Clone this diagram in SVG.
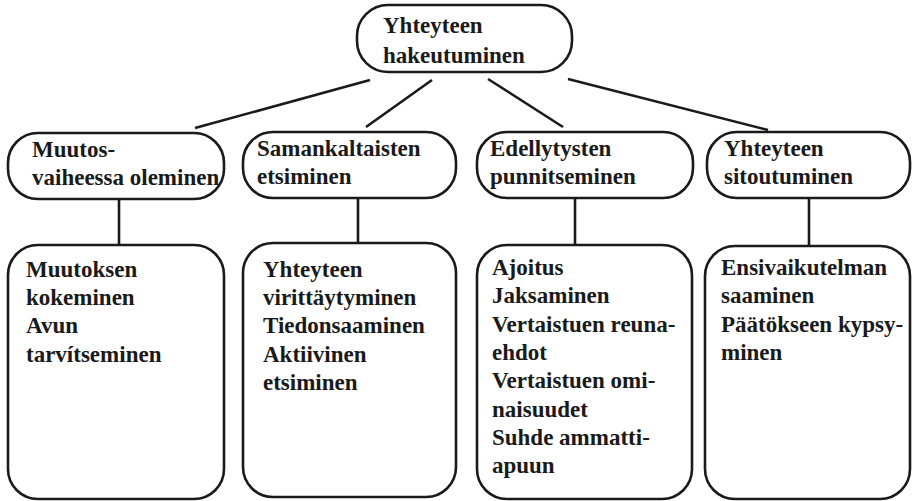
<svg xmlns="http://www.w3.org/2000/svg" width="912" height="501" viewBox="0 0 912 501">
  <style>
    .box { fill: #ffffff; stroke: #1a1a1a; stroke-width: 2.6; }
    .link { stroke: #1a1a1a; stroke-width: 2.6; fill: none; }
    text { font-family: "Liberation Serif", "Times New Roman", serif; font-weight: bold; font-size: 23px; fill: #1a1a1a; }
  </style>
  <rect width="912" height="501" fill="#ffffff"/>

  <!-- connectors -->
  <g id="connectors">
    <line class="link" x1="370" y1="80" x2="195" y2="128"/>
    <line class="link" x1="432" y1="80" x2="366" y2="127"/>
    <line class="link" x1="488" y1="79" x2="563" y2="127"/>
    <line class="link" x1="568" y1="79" x2="768" y2="130"/>
    <line class="link" x1="119" y1="199" x2="119" y2="245"/>
    <line class="link" x1="358" y1="198" x2="358" y2="243"/>
    <line class="link" x1="575" y1="198" x2="575" y2="245"/>
    <line class="link" x1="809" y1="198" x2="809" y2="246"/>
  </g>

  <!-- root -->
  <g id="root">
    <rect class="box" x="357" y="5" width="215" height="67" rx="31" ry="31"/>
    <text x="383" y="33">Yhteyteen</text>
    <text x="383" y="63">hakeutuminen</text>
  </g>

  <!-- second level -->
  <g id="muutosvaihe">
    <rect class="box" x="8" y="133" width="216" height="66" rx="30" ry="30"/>
    <text x="32" y="157">Muutos-</text>
    <text x="32" y="185">vaiheessa oleminen</text>
  </g>
  <g id="samankaltaisten">
    <rect class="box" x="243" y="132" width="213" height="66" rx="30" ry="30"/>
    <text x="257" y="156">Samankaltaisten</text>
    <text x="257" y="184">etsiminen</text>
  </g>
  <g id="edellytysten">
    <rect class="box" x="477" y="132" width="216" height="66" rx="30" ry="30"/>
    <text x="490" y="156">Edellytysten</text>
    <text x="490" y="184">punnitseminen</text>
  </g>
  <g id="sitoutuminen">
    <rect class="box" x="707" y="132" width="203" height="66" rx="30" ry="30"/>
    <text x="724" y="156">Yhteyteen</text>
    <text x="724" y="184">sitoutuminen</text>
  </g>

  <!-- third level -->
  <g id="muutos-sisalto">
    <rect class="box" x="8" y="245" width="216" height="254" rx="30" ry="30"/>
    <text x="26" y="277">Muutoksen</text>
    <text x="26" y="305">kokeminen</text>
    <text x="26" y="333">Avun</text>
    <text x="26" y="362">tarvítseminen</text>
  </g>
  <g id="samankaltaisten-sisalto">
    <rect class="box" x="243" y="243" width="213" height="254" rx="30" ry="30"/>
    <text x="263" y="277">Yhteyteen</text>
    <text x="263" y="305">virittäytyminen</text>
    <text x="263" y="333">Tiedonsaaminen</text>
    <text x="263" y="362">Aktiivinen</text>
    <text x="263" y="390">etsiminen</text>
  </g>
  <g id="edellytysten-sisalto">
    <rect class="box" x="477" y="245" width="215" height="254" rx="30" ry="30"/>
    <text x="492" y="275">Ajoitus</text>
    <text x="492" y="303">Jaksaminen</text>
    <text x="492" y="332">Vertaistuen reuna-</text>
    <text x="492" y="360">ehdot</text>
    <text x="492" y="388">Vertaistuen omi-</text>
    <text x="492" y="417">naisuudet</text>
    <text x="492" y="445">Suhde ammatti-</text>
    <text x="492" y="473">apuun</text>
  </g>
  <g id="sitoutuminen-sisalto">
    <rect class="box" x="705" y="246" width="205" height="253" rx="30" ry="30"/>
    <text x="721" y="275">Ensivaikutelman</text>
    <text x="721" y="303">saaminen</text>
    <text x="721" y="332">Päätökseen kypsy-</text>
    <text x="721" y="360">minen</text>
  </g>
</svg>
